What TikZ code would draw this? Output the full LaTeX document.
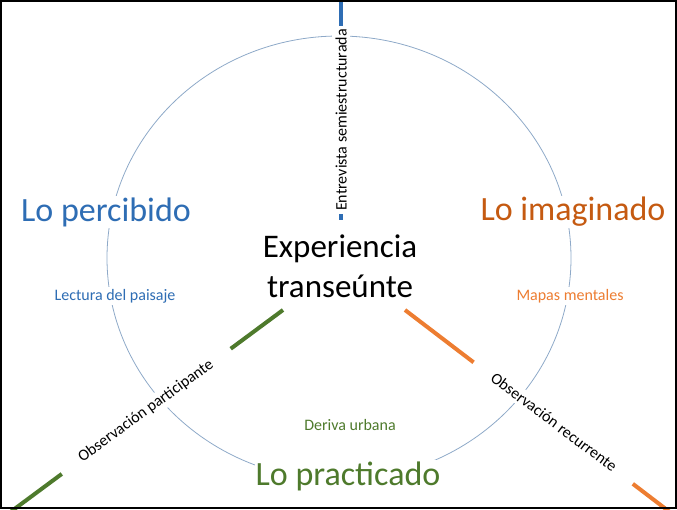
\documentclass[tikz,border=0pt]{standalone}
\usepackage{fontspec}
\setmainfont{Carlito}
\usetikzlibrary{positioning}
\definecolor{tblue}{HTML}{2E6DB4}
\definecolor{torange}{HTML}{C55A11}
\definecolor{lorange}{HTML}{ED7D31}
\definecolor{tgreen}{HTML}{4E7A2C}
\definecolor{ring}{HTML}{8EA9C8}
\begin{document}
\begin{tikzpicture}[x=1pt,y=-1pt,
  title/.style={font=\fontsize{34}{40}\selectfont},
  label/.style={font=\fontsize{16}{19}\selectfont},
  method/.style={font=\fontsize{16}{19}\selectfont, fill=white, inner sep=3pt},
  axis/.style={line width=4pt}
]
\useasboundingbox (0,0) rectangle (677,509);
\begin{scope}
\clip (0,0) rectangle (677,509);

% Ring
\draw[ring, line width=0.8pt] (339,258) ellipse [x radius=232, y radius=222];

% Axes
\coordinate (ctop) at (341,-5);
\coordinate (cbot) at (341,220);
\coordinate (gin) at (283,310);
\coordinate (gout) at (5,516);
\coordinate (oin) at (405,310);
\coordinate (oout) at (675,516);
\draw[axis, tblue] (ctop) -- (cbot);
\draw[axis, tgreen] (gin) -- (gout);
\draw[axis, lorange] (oin) -- (oout);

% Method labels over the axes
\node[method, rotate=90, minimum width=188pt] (entre) at (341,120) {Entrevista semiestructurada};
\node[method, rotate=36, minimum width=210pt] (opart) at (146,411) {Observación participante};
\node[method, rotate=-37, minimum width=200pt] (orec) at (554,422) {Observación recurrente};

% Dimensions
\node[title, tblue, fill=white, inner sep=1pt] (perc) at (106,212) {Lo percibido};
\node[title, torange, fill=white, inner sep=1pt] (imag) at (573,212) {Lo imaginado};
\node[title, tgreen, fill=white, inner sep=1pt] (prac) at (348,476) {Lo practicado};
\node[font=\fontsize{33}{40}\selectfont, align=center, inner sep=1pt] (exp) at (340,266) {Experiencia\\transeúnte};

% Techniques
\node[label, tblue, fill=white, inner sep=2pt] (lect) at (115,296) {Lectura del paisaje};
\node[label, lorange, fill=white, inner sep=2pt] (mapas) at (570,296) {Mapas mentales};
\node[label, tgreen] (deriva) at (350,425) {Deriva urbana};
\end{scope}

% Frame
\draw[line width=1.5pt] (1,1) rectangle (676,508);
\end{tikzpicture}
\end{document}
